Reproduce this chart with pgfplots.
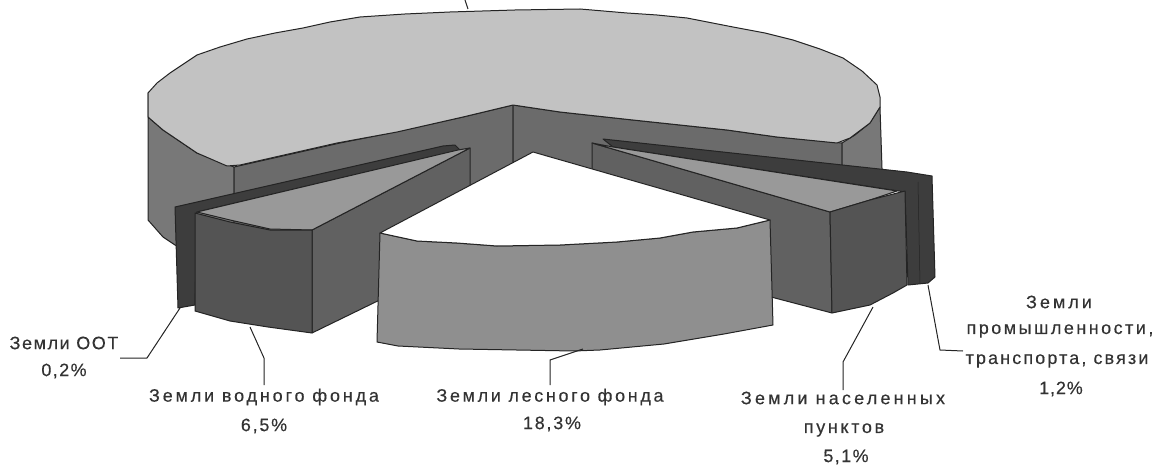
\documentclass[border=0pt]{standalone}
\usepackage{pgfplots}
\pgfplotsset{compat=1.18}
\usepackage{fontspec}
\setmainfont{Liberation Sans}
\definecolor{topA}{gray}{0.76}
\definecolor{sideA}{gray}{0.47}
\definecolor{cutA}{gray}{0.42}
\definecolor{topB}{gray}{0.60}
\definecolor{frontB}{gray}{0.33}
\definecolor{cutB}{gray}{0.38}
\definecolor{darkC}{gray}{0.24}
\definecolor{forest}{gray}{0.56}
\definecolor{edge}{gray}{0.14}
\definecolor{txt}{gray}{0.2}
\newcommand{\lab}[2]{{\fontsize{18}{18}\selectfont\addfontfeature{LetterSpace=#1,FakeBold=0.4}#2}}
\begin{document}
\begin{tikzpicture}
\begin{axis}[
  scale only axis, width=1155bp, height=465bp,
  xmin=0, xmax=1155, ymin=0, ymax=465, y dir=reverse,
  axis lines=none, clip=true,
  every axis plot/.append style={line width=1bp, line join=round, draw=edge},
]
% big slice: outer wall, left
\addplot[fill=sideA] coordinates {(148,93)(148,220)(163,237)(175,245)(205,262)(234,275)(234,167)(197,153)(163,130)(148,117)} -- cycle;
% big slice: cut faces
\addplot[fill=cutA] coordinates {(234,167)(340,143)(400,131)(463,117)(513,105)(513,213)(234,275)} -- cycle;
\addplot[fill=cutA] coordinates {(513,105)(560,112)(633,120)(727,130)(777,137)(842,143)(842,270)(513,213)} -- cycle;
\addplot[fill=sideA] coordinates {(842,143)(855,135)(870,123)(880,107)(882,168)(882,200)(842,270)} -- cycle;
% big slice: top
\addplot[fill=topA] coordinates {(148,93)(157,83)(170,73)(197,55)(220,47)(247,39)(275,33)(303,28)(330,22)(360,17)(405,14)(450,12)(515,10)(580,9)(627,13)(657,15)(687,18)(733,27)(765,33)(793,40)(820,49)(843,58)(862,71)(877,85)(880,97)(880,107)(870,123)(850,138)(837,143)(777,137)(727,130)(633,120)(560,112)(513,105)(463,117)(397,132)(337,143)(240,165)(227,166)(197,153)(163,130)(148,117)} -- cycle;
% OOT slice
\addplot[fill=darkC] coordinates {(443,146)(455,145)(460,150)(197,212)(195,305)(178,308)(175,207)} -- cycle;
% water slice
\addplot[fill=cutB] coordinates {(470,148)(470,256)(312,333)(312,230)} -- cycle;
\addplot[fill=topB] coordinates {(197,212)(458,150)(470,148)(312,230)(270,229)(230,220)} -- cycle;
\addplot[fill=frontB] coordinates {(195,213)(230,222)(270,230)(312,230)(312,333)(268,327)(230,321)(195,311)} -- cycle;
% industry slice
\addplot[fill=darkC] coordinates {(603,139)(907,172)(932,176)(935,277)(928,283)(908,285)(905,192)(613,147)} -- cycle;
\addplot[draw=edge, line width=0.5bp] coordinates {(918,182)(920,283)};
% settlements slice
\addplot[fill=cutB] coordinates {(592,143)(830,212)(832,313)(592,250)} -- cycle;
\addplot[fill=topB] coordinates {(592,143)(613,147)(897,191)(870,200)(830,212)} -- cycle;
\addplot[fill=frontB] coordinates {(830,212)(870,200)(905,191)(907,285)(893,293)(870,305)(832,313)} -- cycle;
% forest slice
\addplot[fill=forest] coordinates {(380,233)(417,241)(457,243)(497,246)(560,245)(617,242)(660,238)(693,232)(737,228)(770,220)(773,325)(724,334)(664,344)(600,350)(574,351)(459,349)(398,346)(377,342)} -- cycle;
\addplot[fill=white] coordinates {(533,152)(770,220)(737,228)(693,232)(660,238)(617,242)(560,245)(497,246)(457,243)(417,241)(380,233)} -- cycle;
% leader lines
\addplot[draw=edge] coordinates {(465,0)(468,9)};
\addplot[draw=edge] coordinates {(180,308)(147,358)(120,358)};
\addplot[draw=edge] coordinates {(250,327)(264,358)(264,385)};
\addplot[draw=edge] coordinates {(583,349)(550,360)(550,385)};
\addplot[draw=edge] coordinates {(873,307)(843,362)(843,390)};
\addplot[draw=edge] coordinates {(928,285)(940,350)(963,351)};
% labels
\node[txt] at (axis cs:64,343) {\lab{9}{Земли ООТ}};
\node[txt] at (axis cs:64,371) {\lab{8}{0,2\%}};
\node[txt] at (axis cs:264,397) {\lab{16}{Земли водного фонда}};
\node[txt] at (axis cs:264,426) {\lab{10}{6,5\%}};
\node[txt] at (axis cs:550,397) {\lab{15}{Земли лесного фонда}};
\node[txt] at (axis cs:552,424) {\lab{10}{18,3\%}};
\node[txt] at (axis cs:843,398) {\lab{18}{Земли населенных}};
\node[txt] at (axis cs:844,430) {\lab{15}{пунктов}};
\node[txt] at (axis cs:846,457) {\lab{8}{5,1\%}};
\node[txt] at (axis cs:1059,302) {\lab{17}{Земли}};
\node[txt] at (axis cs:1060,331) {\lab{14}{промышленности,}};
\node[txt] at (axis cs:1057,361) {\lab{12}{транспорта, связи}};
\node[txt] at (axis cs:1061,389) {\lab{5}{1,2\%}};
\end{axis}
\pgfresetboundingbox
\path[use as bounding box] (0,0) rectangle (1155bp,465bp);
\end{tikzpicture}
\end{document}
